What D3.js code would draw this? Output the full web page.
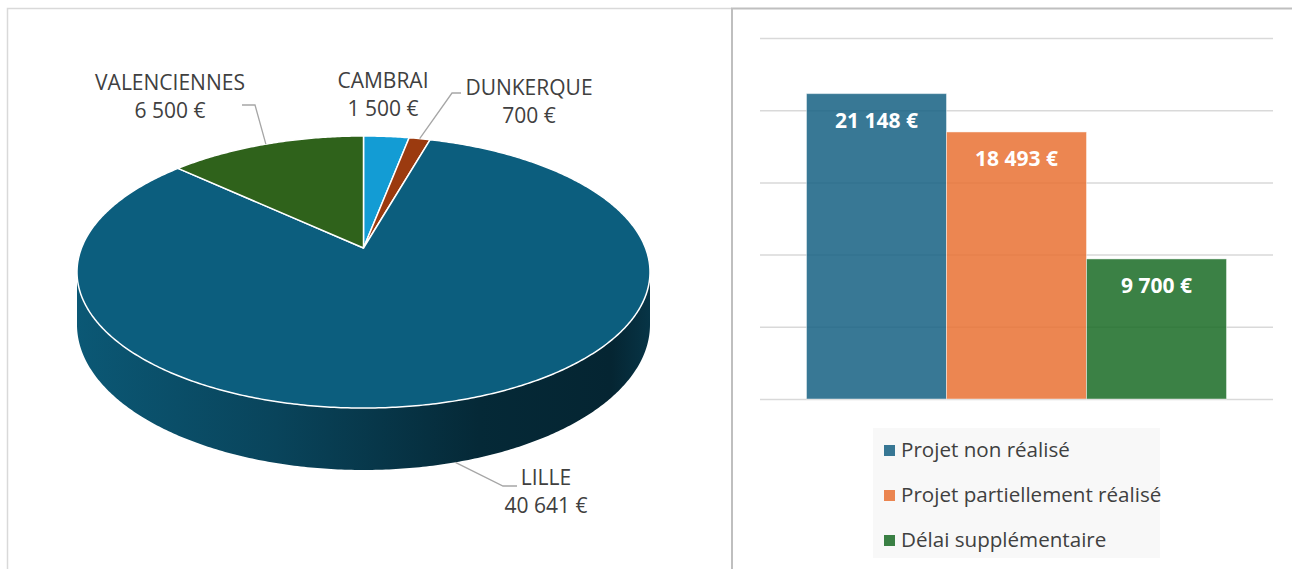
<!DOCTYPE html>
<html>
<head>
<meta charset="utf-8">
<script src="https://cdn.jsdelivr.net/npm/d3@7"></script>
<style>
  body { margin: 0; background: #fff; }
  svg text { font-family: "Open Sans", "Noto Sans", sans-serif; }
</style>
</head>
<body>
<div id="chart"></div>
<script>
// pie : clockwise from the top
var cities = ["CAMBRAI", "DUNKERQUE", "LILLE", "VALENCIENNES"];
var cityAmounts = [1500, 700, 40641, 6500];

// columns
var statuses = ["Projet non réalisé", "Projet partiellement réalisé", "Délai supplémentaire"];
var statusAmounts = [21148, 18493, 9700];
var yTicks = [0, 5000, 10000, 15000, 20000, 25000];

var cityColors = ["#139cd4", "#9b3a0f", "#0c5e7e", "#2f621b"];
var statusColors = ["#156082", "#e97132", "#196b24"];

var fr = d3.formatLocale({decimal: ",", thousands: "\u00a0", grouping: [3], currency: ["", "\u00a0€"]});
var euro = fr.format("$,.0f");

var W = 1292, H = 569;
var svg = d3.select("#chart").append("svg")
    .attr("width", W)
    .attr("height", H);

// frames of the two panels
svg.append("path")
    .attr("d", "M7.5,569V8.5H732")
    .attr("fill", "none")
    .attr("stroke", "#d9d9d9")
    .attr("stroke-width", 1.5);
svg.append("path")
    .attr("d", "M732,569V8.5H1292")
    .attr("fill", "none")
    .attr("stroke", "#bfbfbf")
    .attr("stroke-width", 2);

// ---------- 3D pie ----------
var p3 = {cx: 363.5, cy: 248, rx: 282, ry: 131.8, tilt: 0.1765, depth: 51};

// point on the rim for a pie angle (0 = top, clockwise), drop = bottom face
function rim(angle, drop) {
  var x = Math.sin(angle), y = -Math.cos(angle);
  var k = 1 / (1 - p3.tilt * y);
  return [p3.cx + p3.rx * x * k, p3.cy + p3.ry * y * k + (drop ? p3.depth * k : 0)];
}
function arcPoints(a0, a1, drop) {
  var n = Math.max(2, Math.ceil((a1 - a0) / 0.01)), pts = [];
  for (var i = 0; i <= n; i++) pts.push(rim(a0 + (a1 - a0) * i / n, drop));
  return pts;
}

var arcs = d3.pie().sort(null).startAngle(0).endAngle(2 * Math.PI)(cityAmounts);
var line = d3.line();

var pieG = svg.append("g");
var defs = svg.append("defs");

// visible side (front half, between the silhouettes)
var sil = Math.acos(-p3.tilt);
arcs.forEach(function(a, i) {
  var s = Math.max(a.startAngle, sil), e = Math.min(a.endAngle, 2 * Math.PI - sil);
  if (s >= e) return;
  var base = d3.color(cityColors[i]);
  var grad = defs.append("linearGradient")
      .attr("id", "side" + i)
      .attr("gradientUnits", "userSpaceOnUse")
      .attr("x1", p3.cx - p3.rx - 6).attr("x2", p3.cx + p3.rx + 6)
      .attr("y1", 0).attr("y2", 0);
  [[0, 0.2], [0.35, 0.9], [0.7, 2.3], [0.93, 2.6], [1, 1.6]].forEach(function(st) {
    grad.append("stop").attr("offset", st[0]).attr("stop-color", base.darker(st[1]));
  });
  var pts = arcPoints(s, e, false).concat(arcPoints(s, e, true).reverse());
  pieG.append("path")
      .attr("d", line(pts) + "Z")
      .attr("fill", "url(#side" + i + ")");
});

// top face
arcs.forEach(function(a, i) {
  var pts = [[p3.cx, p3.cy]].concat(arcPoints(a.startAngle, a.endAngle, false));
  pieG.append("path")
      .attr("d", line(pts) + "Z")
      .attr("fill", cityColors[i])
      .attr("stroke", "#fff")
      .attr("stroke-width", 1.5)
      .attr("stroke-linejoin", "round");
});

// data labels
var labelPos = {
  CAMBRAI:      {x: 383, y: 88},
  DUNKERQUE:    {x: 529, y: 95, elbow: [[461, 93], [452, 93]]},
  LILLE:        {x: 546, y: 485, elbow: [[517, 486], [503, 486]], bottom: true},
  VALENCIENNES: {x: 170, y: 90, elbow: [[242, 105], [255, 105]]}
};
arcs.forEach(function(a, i) {
  var lp = labelPos[cities[i]];
  if (lp.elbow) {
    var mid = (a.startAngle + a.endAngle) / 2;
    pieG.append("path")
        .attr("d", line(lp.elbow.concat([rim(mid, lp.bottom)])))
        .attr("fill", "none")
        .attr("stroke", "#a6a6a6")
        .attr("stroke-width", 1.3);
  }
  var t = pieG.append("text")
      .attr("x", lp.x).attr("y", lp.y)
      .attr("text-anchor", "middle")
      .attr("font-size", 21)
      .attr("fill", "#404040");
  t.append("tspan").attr("x", lp.x).text(cities[i]);
  t.append("tspan").attr("x", lp.x).attr("dy", 28).text(euro(cityAmounts[i]));
});

// ---------- columns ----------
var x = d3.scaleBand()
    .domain(statuses)
    .range([760, 1273])
    .paddingInner(0)
    .paddingOuter(0.332);
var y = d3.scaleLinear()
    .domain([0, 25000])
    .range([399, 38]);

var grid = svg.append("g")
    .attr("transform", "translate(760,0)")
    .call(d3.axisLeft(y).tickValues(yTicks).tickSize(-(1273 - 760)).tickFormat(""));
grid.select(".domain").remove();
grid.selectAll(".tick line")
    .attr("stroke", "#d9d9d9")
    .attr("stroke-width", 1.5);

svg.append("g").selectAll("rect")
  .data(statuses)
  .enter().append("rect")
    .attr("x", d => x(d))
    .attr("y", (d, i) => y(statusAmounts[i]))
    .attr("width", x.bandwidth())
    .attr("height", (d, i) => y(0) - y(statusAmounts[i]))
    .attr("fill", (d, i) => statusColors[i])
    .attr("fill-opacity", 0.85)
    .attr("stroke", "#fff")
    .attr("stroke-opacity", 0.45)
    .attr("stroke-width", 1);

svg.append("g").selectAll("text")
  .data(statuses)
  .enter().append("text")
    .attr("x", d => x(d) + x.bandwidth() / 2)
    .attr("y", (d, i) => y(statusAmounts[i]) + 34.5)
    .attr("text-anchor", "middle")
    .attr("font-size", 21)
    .attr("font-weight", "bold")
    .attr("fill", "#fff")
    .text((d, i) => euro(statusAmounts[i]));

// legend
var legend = svg.append("g");
legend.append("rect")
    .attr("x", 873).attr("y", 428)
    .attr("width", 287).attr("height", 130)
    .attr("fill", "#f8f8f8");
var item = legend.selectAll("g.item")
  .data(statuses)
  .enter().append("g")
    .attr("class", "item")
    .attr("transform", (d, i) => "translate(884," + (457 + i * 45) + ")");
item.append("rect")
    .attr("x", 0).attr("y", -12)
    .attr("width", 11).attr("height", 11)
    .attr("fill", (d, i) => statusColors[i])
    .attr("fill-opacity", 0.85);
item.append("text")
    .attr("x", 17)
    .attr("font-size", 20.6)
    .attr("fill", "#404040")
    .text(d => d);
</script>
</body>
</html>
